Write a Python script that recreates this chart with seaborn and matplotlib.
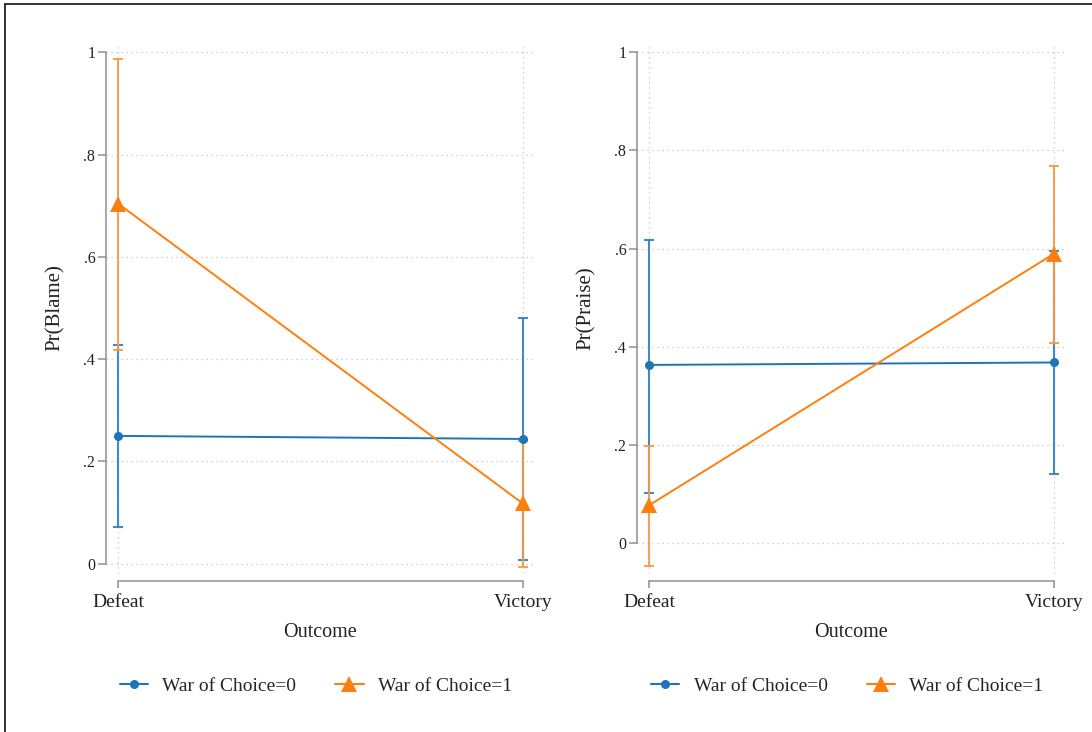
import numpy as np
import pandas as pd
import matplotlib
matplotlib.use("Agg")
import matplotlib.pyplot as plt
from matplotlib.lines import Line2D
import seaborn as sns

# ---------------- data ----------------
outcomes = ["Defeat", "Victory"]
groups = ["War of Choice=0", "War of Choice=1"]

blame_wc0 = [0.250, 0.244]
blame_wc0_lo = [0.072, 0.007]
blame_wc0_hi = [0.428, 0.481]
blame_wc1 = [0.704, 0.118]
blame_wc1_lo = [0.418, -0.006]
blame_wc1_hi = [0.986, 0.240]

praise_wc0 = [0.363, 0.368]
praise_wc0_lo = [0.102, 0.140]
praise_wc0_hi = [0.618, 0.596]
praise_wc1 = [0.077, 0.590]
praise_wc1_lo = [-0.046, 0.407]
praise_wc1_hi = [0.197, 0.768]

ytick_vals = [0, 0.2, 0.4, 0.6, 0.8, 1.0]
ytick_labels = ["0", ".2", ".4", ".6", ".8", "1"]

# ---------------- style ----------------
sns.set_theme(style="white")
plt.rcParams["font.family"] = ["Liberation Serif", "DejaVu Serif"]

BLUE = "#1f74b5"
ORANGE = "#ff7f0e"
BLUE_CI = "#2f7fbd"
ORANGE_CI = "#f39a45"
GRID = "#c4c4c4"
AXC = "#8f8f8f"
TXT = "#222222"

W, H = 1092, 732
fig = plt.figure(figsize=(W / 100, H / 100), dpi=100)

def px_axes(x0, x1, ytop, ybot):
    return fig.add_axes([x0 / W, (H - ybot) / H, (x1 - x0) / W, (ybot - ytop) / H])

ax1 = px_axes(106.4, 534, 43, 573)
ax2 = px_axes(637.4, 1065.6, 43, 573)

panels = [
    (ax1, "Pr(Blame)", (blame_wc0, blame_wc0_lo, blame_wc0_hi),
     (blame_wc1, blame_wc1_lo, blame_wc1_hi), (-0.018, 1.018)),
    (ax2, "Pr(Praise)", (praise_wc0, praise_wc0_lo, praise_wc0_hi),
     (praise_wc1, praise_wc1_lo, praise_wc1_hi), (-0.061, 1.019)),
]

xpos = np.arange(len(outcomes))

for ax, ylab, s0, s1, ylim in panels:
    # spines first (set_position resets tick properties)
    for side in ["top", "right"]:
        ax.spines[side].set_visible(False)
    ax.spines["bottom"].set_position(("outward", 6))

    # grid
    for yv in ytick_vals:
        ax.axhline(yv, color=GRID, lw=0.9, ls=(0, (1, 3)), zorder=0)
    for xv in xpos:
        ax.axvline(xv, color=GRID, lw=0.9, ls=(0, (1, 3)), zorder=0)

    # confidence intervals
    for (vals, lo, hi), col, z in [(s0, BLUE_CI, 2), (s1, ORANGE_CI, 3)]:
        vals = np.array(vals); lo = np.array(lo); hi = np.array(hi)
        ax.errorbar(xpos, vals, yerr=[vals - lo, hi - vals], fmt="none",
                    ecolor=col, elinewidth=1.5, capsize=3.3, capthick=1.5,
                    alpha=0.9, zorder=z)

    df = pd.DataFrame({
        "Outcome": np.concatenate([xpos, xpos]),
        "Pr": np.concatenate([s0[0], s1[0]]),
        "group": [groups[0]] * len(xpos) + [groups[1]] * len(xpos),
    })
    sns.lineplot(data=df[df.group == groups[0]], x="Outcome", y="Pr", ax=ax,
                 color=BLUE, marker="o", markersize=6.5, markeredgewidth=0,
                 lw=1.4, legend=False, zorder=4)
    sns.lineplot(data=df[df.group == groups[1]], x="Outcome", y="Pr", ax=ax,
                 color=ORANGE, marker="^", markersize=11, markeredgewidth=0,
                 lw=1.4, legend=False, zorder=5)

    ax.set_xlim(-0.029, 1.028)
    ax.set_ylim(*ylim)
    ax.set_xticks(xpos)
    ax.set_xticklabels(outcomes)
    ax.set_yticks(ytick_vals)
    ax.set_yticklabels(ytick_labels)
    ax.grid(False)

    ax.spines["left"].set_bounds(0, 1)
    ax.spines["bottom"].set_bounds(0, 1)
    for side in ["left", "bottom"]:
        ax.spines[side].set_color(AXC)
        ax.spines[side].set_linewidth(1.1)
    ax.tick_params(axis="y", direction="out", length=6, width=1.1,
                   color=AXC, pad=2, left=True, labelcolor=TXT, labelsize=11.5)
    ax.tick_params(axis="x", direction="out", length=5, width=1.1,
                   color=AXC, pad=4, bottom=True, labelcolor=TXT, labelsize=14)

    ax.set_xlabel("Outcome", fontsize=14.5, color=TXT)
    ax.xaxis.set_label_coords(0.5, -0.095)
    ax.set_ylabel(ylab, fontsize=15, color=TXT)
    ax.yaxis.set_label_coords(-0.098, 0.5)

    handles = [
        Line2D([], [], color=BLUE, marker="o", markersize=6.5,
               markeredgewidth=0, lw=1.5),
        Line2D([], [], color=ORANGE, marker="^", markersize=11,
               markeredgewidth=0, lw=1.5),
    ]
    ax.legend(handles, groups, loc="center", bbox_to_anchor=(0.49, -0.213),
              ncol=2, frameon=False, fontsize=14, handlelength=1.45,
              handletextpad=0.75, columnspacing=2.0)

# outer frame (top and left edges)
fig.add_artist(Line2D([5 / W, 5 / W], [0, 1 - 4 / H], color=TXT,
                      lw=1.3, transform=fig.transFigure))
fig.add_artist(Line2D([5 / W, 1], [1 - 4 / H, 1 - 4 / H], color=TXT,
                      lw=1.3, transform=fig.transFigure))

fig.savefig("out.png", dpi=100, facecolor="white")
